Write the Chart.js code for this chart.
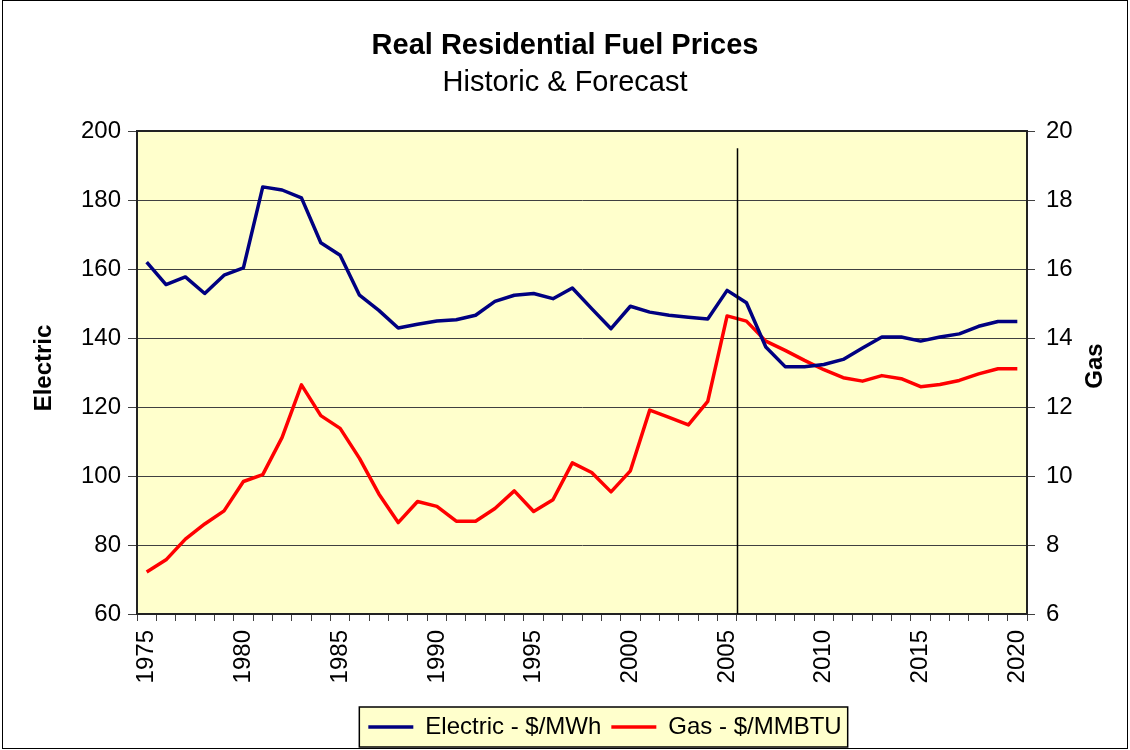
<!DOCTYPE html>
<html>
<head>
<meta charset="utf-8">
<title>Real Residential Fuel Prices</title>
<script src="https://cdn.jsdelivr.net/npm/chart.js@4.4.1/dist/chart.umd.min.js"></script>
<style>
  html, body { margin: 0; padding: 0; background: #fff; }
  #wrap { width: 1130px; height: 750px; }
</style>
</head>
<body>
<div id="wrap"><canvas id="fuelChart" width="1130" height="750"></canvas></div>
<script>
// Categories (years) and the two price series
const years = [1975, 1976, 1977, 1978, 1979, 1980, 1981, 1982, 1983, 1984,
               1985, 1986, 1987, 1988, 1989, 1990, 1991, 1992, 1993, 1994,
               1995, 1996, 1997, 1998, 1999, 2000, 2001, 2002, 2003, 2004,
               2005, 2006, 2007, 2008, 2009, 2010, 2011, 2012, 2013, 2014,
               2015, 2016, 2017, 2018, 2019, 2020];

// Electric - $/MWh (left axis)
const electricPrices = [162, 155.5, 157.7, 152.9, 158.2, 160.3, 183.8, 182.9, 180.6, 167.6,
                        164, 152.4, 148, 142.9, 144, 144.9, 145.3, 146.6, 150.6, 152.4,
                        152.9, 151.4, 154.5, 148.5, 142.7, 149.2, 147.5, 146.6, 146, 145.5,
                        153.8, 150.2, 137.4, 131.7, 131.7, 132.3, 133.8, 137.1, 140.3, 140.3,
                        139.1, 140.3, 141.2, 143.4, 144.8, 144.8];

// Gas - $/MMBTU (right axis)
const gasPrices = [7.22, 7.57, 8.17, 8.61, 8.99, 9.84, 10.04, 11.12, 12.64, 11.75,
                   11.38, 10.51, 9.48, 8.65, 9.26, 9.12, 8.69, 8.69, 9.06, 9.57,
                   8.97, 9.31, 10.38, 10.10, 9.54, 10.15, 11.91, 11.70, 11.48, 12.16,
                   14.64, 14.49, 13.91, 13.64, 13.35, 13.08, 12.85, 12.75, 12.91, 12.82,
                   12.59, 12.65, 12.77, 12.96, 13.11, 13.11];

// Axis ranges / tick steps
const electricAxis = { min: 60, max: 200, step: 20 };
const gasAxis = { min: 6, max: 20, step: 2 };
const yearLabelEvery = 5;

// History / forecast divider sits after this year, reaching up to this electric value
const lastHistoricYear = 2005;
const dividerTop = 195;

const FONT = "'Liberation Sans', Arial, sans-serif";
Chart.defaults.font.family = FONT;
Chart.defaults.color = '#000';

// Backgrounds, legend frame, plot border, divider line and axis titles
const fuelDecor = {
    id: 'fuelDecor',
    afterLayout(chart) {
        // the original legend sits a little right of centre
        chart.legend.left += 40;
        chart.legend.right += 40;
    },
    beforeDraw(chart) {
        const ctx = chart.ctx;
        const area = chart.chartArea;
        ctx.save();
        ctx.fillStyle = '#ffffff';
        ctx.fillRect(0, 0, chart.width, chart.height);
        ctx.fillStyle = '#FFFFCC';
        ctx.fillRect(area.left, area.top, area.right - area.left, area.bottom - area.top);

        // box behind the legend
        const boxes = chart.legend.legendHitBoxes;
        if (boxes && boxes.length) {
            const left = Math.min(...boxes.map(b => b.left)) - 9;
            const right = Math.max(...boxes.map(b => b.left + b.width)) + 6;
            const top = boxes[0].top - 8;
            const bottom = boxes[0].top + boxes[0].height + 8;
            ctx.fillStyle = '#FFFFCC';
            ctx.fillRect(left, top, right - left, bottom - top);
            ctx.strokeStyle = '#000';
            ctx.lineWidth = 1.5;
            ctx.strokeRect(left, top, right - left, bottom - top);
        }
        ctx.restore();
    },
    afterDraw(chart) {
        const ctx = chart.ctx;
        const area = chart.chartArea;
        const x = chart.scales.x;
        const yE = chart.scales.yElectric;
        ctx.save();

        // plot area border
        ctx.strokeStyle = '#222';
        ctx.lineWidth = 2;
        ctx.strokeRect(area.left, area.top, area.right - area.left, area.bottom - area.top);

        // divider between historic and forecast years
        const idx = years.indexOf(lastHistoricYear) + 0.5;
        const dx = Math.round(x.getPixelForValue(idx)) + 0.5;
        ctx.strokeStyle = '#000';
        ctx.lineWidth = 1.5;
        ctx.beginPath();
        ctx.moveTo(dx, yE.getPixelForValue(dividerTop));
        ctx.lineTo(dx, area.bottom);
        ctx.stroke();

        // axis titles
        ctx.fillStyle = '#000';
        ctx.font = 'bold 24px ' + FONT;
        ctx.textAlign = 'center';
        ctx.textBaseline = 'middle';
        ctx.translate(44, 368);
        ctx.rotate(-Math.PI / 2);
        ctx.fillText('Electric', 0, 0);
        ctx.setTransform(1, 0, 0, 1, 0, 0);
        ctx.translate(1095, 366);
        ctx.rotate(-Math.PI / 2);
        ctx.fillText('Gas', 0, 0);
        ctx.setTransform(1, 0, 0, 1, 0, 0);

        // outer frame
        ctx.strokeStyle = '#000';
        ctx.lineWidth = 1;
        ctx.strokeRect(2.5, 0.5, chart.width - 5, chart.height - 2);
        ctx.restore();
    }
};

const ctx = document.getElementById('fuelChart').getContext('2d');
const fuelChart = new Chart(ctx, {
    type: 'line',
    data: {
        labels: years.map(String),
        datasets: [{
            label: 'Electric - $/MWh',
            data: electricPrices,
            borderColor: '#000080',
            backgroundColor: '#000080',
            borderWidth: 3.5,
            borderJoinStyle: 'round',
            pointRadius: 0,
            tension: 0,
            yAxisID: 'yElectric'
        }, {
            label: 'Gas - $/MMBTU',
            data: gasPrices,
            borderColor: '#FF0000',
            backgroundColor: '#FF0000',
            borderWidth: 3.5,
            borderJoinStyle: 'round',
            pointRadius: 0,
            tension: 0,
            yAxisID: 'yGas'
        }]
    },
    options: {
        responsive: false,
        animation: false,
        layout: { padding: { left: 0, right: 0, top: 0, bottom: 1 } },
        plugins: {
            title: {
                display: true,
                text: 'Real Residential Fuel Prices',
                color: '#000',
                font: { size: 29, weight: 'bold' },
                padding: { top: 28.6, bottom: 2 }
            },
            subtitle: {
                display: true,
                text: 'Historic & Forecast',
                color: '#000',
                font: { size: 29, weight: 'normal' },
                padding: { top: 0, bottom: 30.8 }
            },
            legend: {
                position: 'bottom',
                labels: {
                    usePointStyle: true,
                    pointStyle: 'line',
                    pointStyleWidth: 45,
                    color: '#000',
                    font: { size: 24 },
                    padding: 10
                }
            },
            tooltip: { enabled: false }
        },
        scales: {
            x: {
                offset: true,
                grid: { offset: true, drawOnChartArea: false, tickLength: 7, color: '#404040' },
                border: { color: '#222', width: 2 },
                ticks: {
                    autoSkip: false,
                    maxRotation: 90,
                    minRotation: 90,
                    padding: 9,
                    font: { size: 24 },
                    callback: function(value, index) {
                        return years[index] % yearLabelEvery === 0 ? String(years[index]) : '';
                    }
                },
                afterFit: function(scale) { scale.height = 91; }
            },
            yElectric: {
                position: 'left',
                min: electricAxis.min,
                max: electricAxis.max,
                ticks: { stepSize: electricAxis.step, padding: 7, font: { size: 24 } },
                grid: { color: '#404040', tickLength: 9 },
                border: { color: '#222', width: 2 },
                afterFit: function(scale) { scale.width = 137; }
            },
            yGas: {
                position: 'right',
                min: gasAxis.min,
                max: gasAxis.max,
                ticks: { stepSize: gasAxis.step, padding: 11, font: { size: 24 } },
                grid: { drawOnChartArea: false, color: '#404040', tickLength: 8 },
                border: { color: '#222', width: 2 },
                afterFit: function(scale) { scale.width = 103; }
            }
        }
    },
    plugins: [fuelDecor]
});
</script>
</body>
</html>
